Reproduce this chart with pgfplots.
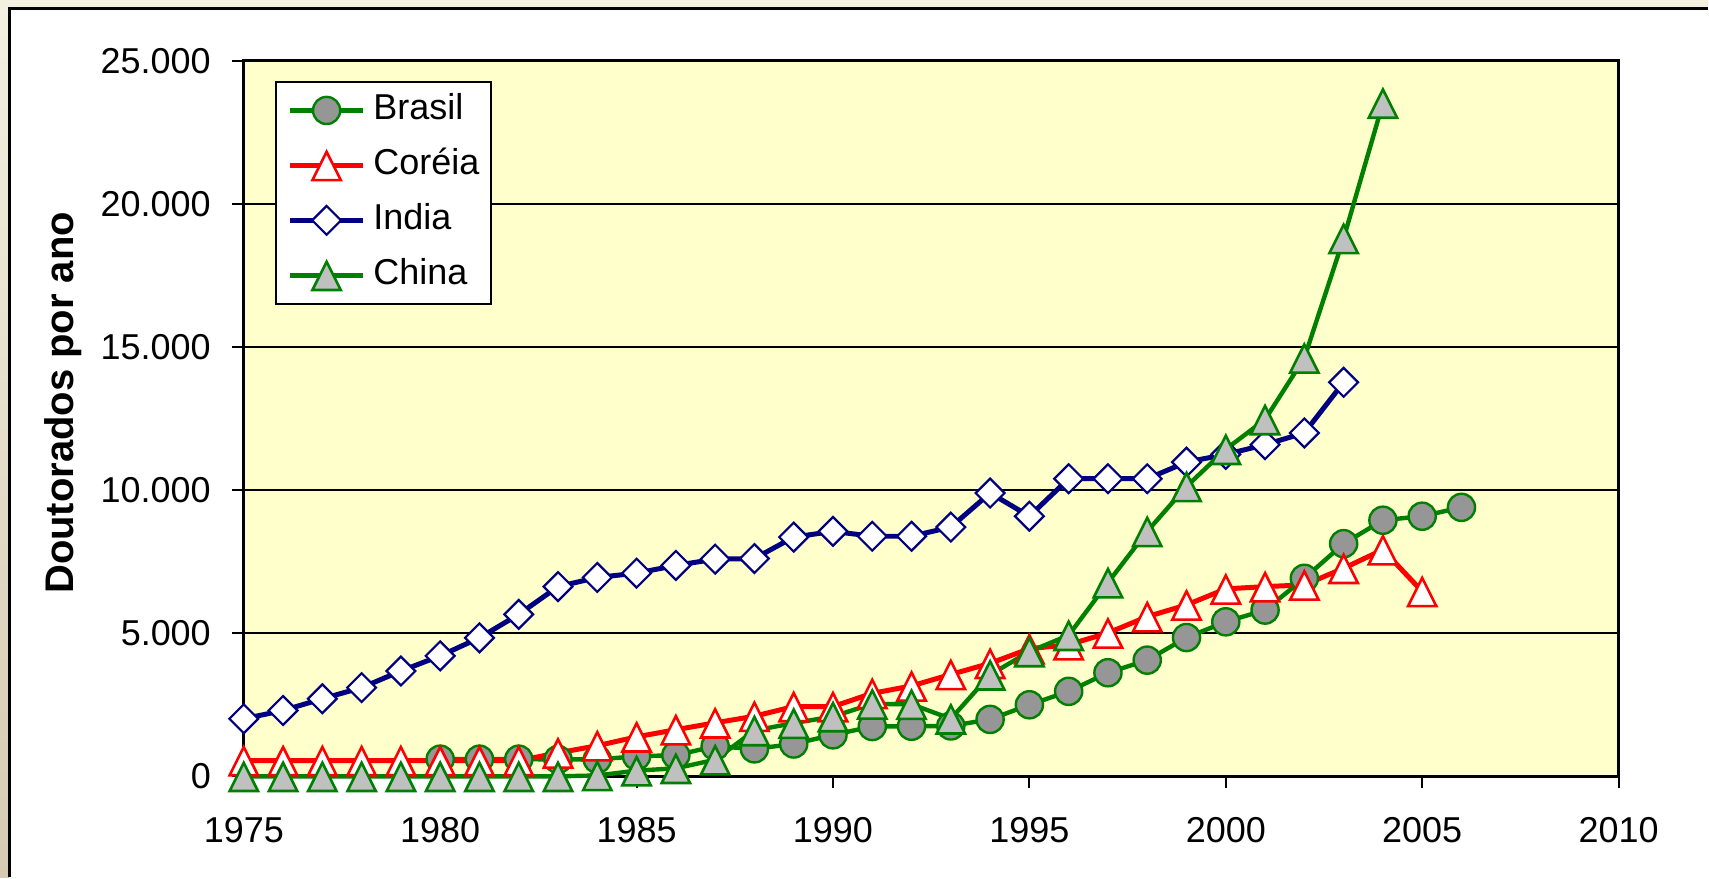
\documentclass[border=0pt]{standalone}
\usepackage{pgfplots}
\pgfplotsset{compat=1.18}
\usepackage{fontspec}
\setmainfont{Liberation Sans}
\definecolor{xgreen}{RGB}{0,128,0}
\definecolor{xnavy}{RGB}{0,0,128}
\definecolor{xred}{RGB}{255,0,0}
\definecolor{brfill}{RGB}{150,150,150}
\definecolor{chfill}{RGB}{192,192,192}
\definecolor{plotbg}{RGB}{255,255,204}
\definecolor{slidebg}{RGB}{243,240,224}
\definecolor{slidedark}{RGB}{214,202,178}
\begin{document}
\begin{tikzpicture}[font=\fontsize{18}{21.6}\selectfont]
\fill[slidebg] (0pt,0pt) rectangle (854.5pt,439pt);
\shade[top color=slidebg, bottom color=slidedark] (0pt,0pt) rectangle (4.65pt,439pt);
\fill[white] (4.65pt,0pt) rectangle (854.5pt,434.85pt);
\draw[line width=1.5pt] (4.65pt,0pt) -- (4.65pt,434.85pt) -- (854.5pt,434.85pt);
\begin{axis}[
  at={(122pt,50.5pt)}, anchor=south west,
  scale only axis, width=688pt, height=358pt,
  xmin=1975, xmax=2010, ymin=0, ymax=25000,
  scaled y ticks=false,
  xtick={1975,1980,1985,1990,1995,2000,2005,2010},
  xticklabels={1975,1980,1985,1990,1995,2000,2005,2010},
  ytick={0,5000,10000,15000,20000,25000},
  yticklabels={0,5.000,10.000,15.000,20.000,25.000},
  xtick pos=bottom, ytick pos=left,
  tick align=outside, major tick length=6pt,
  tick style={black, line width=1pt},
  axis line style={black, line width=1.5pt},
  ymajorgrids, grid style={black, line width=1pt},
  axis background/.style={fill=plotbg},
  clip=false,
  xticklabel style={yshift=-11pt},
  yticklabel style={xshift=-7pt},
  ylabel={\fontsize{20}{24}\selectfont\bfseries Doutorados por ano},
  ylabel style={at={(axis description cs:-0.1315,0.522)}, anchor=center, rotate=0},
  legend cell align=left,
  legend image code/.code={\draw[mark repeat=2,mark phase=2,#1] plot coordinates {(0cm,0cm) (0.64cm,0cm) (1.28cm,0cm)};},
  legend style={at={(axis description cs:0.0225,0.972)}, anchor=north west,
    draw=black, line width=1pt, fill=white, inner xsep=6pt, inner ysep=6pt,
    row sep=11pt, column sep=4pt,
    nodes={inner sep=0pt, text height=13pt, text depth=3.5pt}},
]
\addplot[xgreen, line width=2.2pt, mark=*, mark size=6.8pt,
  mark options={fill=brfill, draw=xgreen, line width=1.2pt}] coordinates {
(1980,600) (1981,600) (1982,600) (1983,590) (1984,590) (1985,700) (1986,740)
(1987,1050) (1988,960) (1989,1130) (1990,1450) (1991,1740) (1992,1750) (1993,1760)
(1994,1990) (1995,2500) (1996,2970) (1997,3620) (1998,4060) (1999,4850) (2000,5400)
(2001,5810) (2002,6920) (2003,8130) (2004,8950) (2005,9090) (2006,9400)};
\addlegendentry{Brasil}
\addplot[xred, line width=2.5pt, mark=triangle*, mark size=8.2pt,
  mark options={fill=white, draw=xred, line width=1.3pt, yscale=1.15, yshift=-2.3pt}] coordinates {
(1975,550) (1976,550) (1977,550) (1978,550) (1979,550) (1980,550) (1981,550) (1982,550)
(1983,820) (1984,1070) (1985,1380) (1986,1630) (1987,1870) (1988,2100) (1989,2440)
(1990,2440) (1991,2900) (1992,3160) (1993,3560) (1994,3950) (1995,4460) (1996,4600)
(1997,5010) (1998,5580) (1999,5990) (2000,6550) (2001,6630) (2002,6690) (2003,7270)
(2004,7920) (2005,6460)};
\addlegendentry{Coréia}
\addplot[xnavy, line width=2.5pt, mark=square*, mark size=5.1pt,
  mark options={fill=white, draw=xnavy, line width=1.1pt, rotate=45}] coordinates {
(1975,2010) (1976,2300) (1977,2710) (1978,3100) (1979,3680) (1980,4210) (1981,4840)
(1982,5660) (1983,6630) (1984,6950) (1985,7100) (1986,7370) (1987,7590) (1988,7610)
(1989,8360) (1990,8560) (1991,8390) (1992,8390) (1993,8710) (1994,9900) (1995,9090)
(1996,10400) (1997,10400) (1998,10400) (1999,10980) (2000,11250) (2001,11590)
(2002,12000) (2003,13770)};
\addlegendentry{India}
\addplot[xgreen, line width=2.2pt, mark=triangle*, mark size=8.2pt,
  mark options={fill=chfill, draw=xgreen, line width=1.3pt, yscale=1.15, yshift=-2.3pt}] coordinates {
(1975,0) (1976,0) (1977,0) (1978,0) (1979,0) (1980,0) (1981,0) (1982,0) (1983,0)
(1984,30) (1985,200) (1986,280) (1987,580) (1988,1600) (1989,1860) (1990,2090)
(1991,2530) (1992,2520) (1993,2010) (1994,3550) (1995,4360) (1996,4930) (1997,6770)
(1998,8560) (1999,10130) (2000,11430) (2001,12470) (2002,14620) (2003,18800) (2004,23530)};
\addlegendentry{China}
\end{axis}
\end{tikzpicture}
\end{document}
